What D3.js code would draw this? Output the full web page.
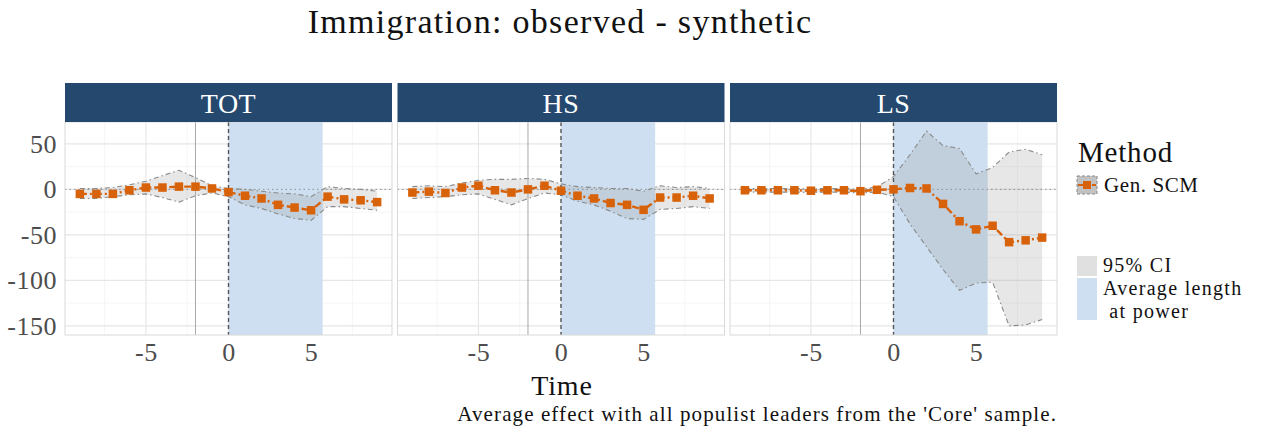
<!DOCTYPE html>
<html>
<head>
<meta charset="utf-8">
<script src="https://cdn.jsdelivr.net/npm/d3@7"></script>
<style>
  html, body { margin: 0; padding: 0; background: #ffffff; }
  svg { display: block; }
  text { font-family: "Liberation Serif", "DejaVu Serif", serif; }
</style>
</head>
<body>
<script>
// Event time relative to the populist leader taking office
const time = [-9, -8, -7, -6, -5, -4, -3, -2, -1, 0, 1, 2, 3, 4, 5, 6, 7, 8, 9];

// Panel names
const panels = ["TOT", "HS", "LS"];

// Observed minus synthetic, with 95% confidence bounds
const totEffect = [-5, -5, -5, -1, 2, 2, 3, 3, 1, -3, -7, -10, -17, -20, -23, -8, -11, -12, -14];
const totUpper  = [1, 1, 2, 5, 9, 15, 21, 13, 4, 1, 0, -2, -4, -5, -8, 3, 1, 0, -2];
const totLower  = [-10, -10, -8, -6, -5, -9, -14, -7, -4, -8, -17, -21, -27, -32, -34, -19, -19, -21, -23];

const hsEffect = [-3.5, -2.5, -4, 2, 4, -1, -3.5, 0, 4, -1.5, -7, -10, -15, -17, -22.5, -9, -9, -7, -10];
const hsUpper  = [3, 4, 3, 7, 10, 11, 11, 12, 11, 6, 3, 2, 1, 1, -2, 4, 2, 3, 1];
const hsLower  = [-10, -9, -8, -6, -5, -11, -17, -10, -4, -6, -13, -17, -24, -32, -33, -22, -21, -19, -21];

const lsEffect = [-1, -1, -1, -1, -1.5, -1, -1, -2, -0.5, 0, 1.5, 1, -16, -35, -44, -40, -58, -56, -53];
const lsUpper  = [1, 1, 1, 1, 0.5, 1, 1, 0, 2.5, 14, 38, 64, 48, 45, 17, 24, 41, 44, 38];
const lsLower  = [-3, -3, -3, -3, -3.5, -3, -3, -4, -3, -8, -38, -63, -88, -111, -103, -102, -150, -149, -143];

// Average length of a populist spell in office (years)
const avgLengthAtPower = 5.7;
// Reference line marking the anticipation window
const anticipationTime = -2;

// Axis settings
const xDomain = [-9.9, 9.9];
const yDomain = [-160, 74];
const xTicks = [-5, 0, 5];
const xMinor = [-7.5, -2.5, 2.5, 7.5];
const yTicks = [-150, -100, -50, 0, 50];
const yMinor = [-125, -75, -25, 25];

const series = {
  TOT: { effect: totEffect, upper: totUpper, lower: totLower },
  HS:  { effect: hsEffect,  upper: hsUpper,  lower: hsLower },
  LS:  { effect: lsEffect,  upper: lsUpper,  lower: lsLower }
};

const W = 1265, H = 433;
const panelW = 327, panelStep = 332.5, panelLeft = 65;
const panelTop = 122, panelBottom = 335;
const stripTop = 83;

const orange = "#D8620A";
const blueShade = "#cddff0";
const stripFill = "#25486e";

// Plain hyphen for negative tick labels
const tickFmt = v => String(v);

const svg = d3.select("body").append("svg")
  .attr("width", W).attr("height", H);

// Title
svg.append("text")
  .attr("x", 560).attr("y", 33)
  .attr("text-anchor", "middle")
  .attr("font-size", 34)
  .attr("letter-spacing", 1.3)
  .attr("fill", "#111")
  .text("Immigration: observed - synthetic");

const y = d3.scaleLinear().domain(yDomain).range([panelBottom, panelTop]);

panels.forEach((name, i) => {
  const x0 = panelLeft + i * panelStep;
  const x = d3.scaleLinear().domain(xDomain).range([x0, x0 + panelW]);
  const d = series[name];
  const rows = time.map((t, k) => ({ t, v: d.effect[k], hi: d.upper[k], lo: d.lower[k] }));

  const g = svg.append("g");

  // Minor grid
  g.selectAll(null).data(xMinor).join("line")
    .attr("x1", v => x(v)).attr("x2", v => x(v))
    .attr("y1", panelTop).attr("y2", panelBottom)
    .attr("stroke", "#f3f3f3").attr("stroke-width", 0.8);
  g.selectAll(null).data(yMinor).join("line")
    .attr("x1", x0).attr("x2", x0 + panelW)
    .attr("y1", v => y(v)).attr("y2", v => y(v))
    .attr("stroke", "#f3f3f3").attr("stroke-width", 0.8);
  // Major grid
  g.selectAll(null).data(xTicks).join("line")
    .attr("x1", v => x(v)).attr("x2", v => x(v))
    .attr("y1", panelTop).attr("y2", panelBottom)
    .attr("stroke", "#e6e6e6").attr("stroke-width", 1.1);
  g.selectAll(null).data(yTicks).join("line")
    .attr("x1", x0).attr("x2", x0 + panelW)
    .attr("y1", v => y(v)).attr("y2", v => y(v))
    .attr("stroke", "#e6e6e6").attr("stroke-width", 1.1);

  // Average length at power
  g.append("rect")
    .attr("x", x(0)).attr("y", panelTop)
    .attr("width", x(avgLengthAtPower) - x(0))
    .attr("height", panelBottom - panelTop)
    .attr("fill", blueShade);

  // Confidence band
  const area = d3.area()
    .x(r => x(r.t)).y0(r => y(r.lo)).y1(r => y(r.hi));
  g.append("path").datum(rows)
    .attr("d", area)
    .attr("fill", "#9a9a9a").attr("fill-opacity", 0.24);
  ["hi", "lo"].forEach(key => {
    g.append("path").datum(rows)
      .attr("d", d3.line().x(r => x(r.t)).y(r => y(r[key])))
      .attr("fill", "none")
      .attr("stroke", "#8a8a8a").attr("stroke-width", 1.1)
      .attr("stroke-dasharray", "5,3,1.5,3");
  });

  // Zero reference
  g.append("line")
    .attr("x1", x0).attr("x2", x0 + panelW)
    .attr("y1", y(0)).attr("y2", y(0))
    .attr("stroke", "#8f8f8f").attr("stroke-width", 1)
    .attr("stroke-dasharray", "1.5,3");

  // Anticipation and treatment lines
  g.append("line")
    .attr("x1", x(anticipationTime)).attr("x2", x(anticipationTime))
    .attr("y1", panelTop).attr("y2", panelBottom)
    .attr("stroke", "#a8a8a8").attr("stroke-width", 1);
  g.append("line")
    .attr("x1", x(0)).attr("x2", x(0))
    .attr("y1", panelTop).attr("y2", panelBottom)
    .attr("stroke", "#555").attr("stroke-width", 1.4)
    .attr("stroke-dasharray", "4,3");

  // Effect line and points
  g.append("path").datum(rows)
    .attr("d", d3.line().x(r => x(r.t)).y(r => y(r.v)))
    .attr("fill", "none")
    .attr("stroke", orange).attr("stroke-width", 2.4)
    .attr("stroke-dasharray", "7,3,2,3");
  const s = 8.5;
  g.selectAll(null).data(rows).join("rect")
    .attr("x", r => x(r.t) - s / 2).attr("y", r => y(r.v) - s / 2)
    .attr("width", s).attr("height", s)
    .attr("fill", orange);

  // Panel border
  g.append("rect")
    .attr("x", x0).attr("y", panelTop)
    .attr("width", panelW).attr("height", panelBottom - panelTop)
    .attr("fill", "none").attr("stroke", "#d9d9d9").attr("stroke-width", 1);

  // Strip
  g.append("rect")
    .attr("x", x0).attr("y", stripTop)
    .attr("width", panelW).attr("height", panelTop - stripTop)
    .attr("fill", stripFill);
  g.append("text")
    .attr("x", x0 + panelW / 2).attr("y", (stripTop + panelTop) / 2 + 10)
    .attr("text-anchor", "middle")
    .attr("font-size", 28).attr("letter-spacing", 0.5).attr("fill", "#ffffff")
    .text(name);

  // Bottom axis
  const xAxis = g.append("g")
    .attr("transform", `translate(0,${panelBottom})`)
    .call(d3.axisBottom(x).tickValues(xTicks).tickSize(0).tickPadding(8).tickFormat(tickFmt));
  xAxis.select(".domain").remove();
  xAxis.selectAll("text")
    .attr("font-size", 26).attr("letter-spacing", 0.5).attr("fill", "#4d4d4d")
    .attr("font-family", "Liberation Serif, serif");

  // Left axis on the first panel only
  if (i === 0) {
    const yAxis = g.append("g")
      .attr("transform", `translate(${x0},0)`)
      .call(d3.axisLeft(y).tickValues(yTicks).tickSize(0).tickPadding(8).tickFormat(tickFmt));
    yAxis.select(".domain").remove();
    yAxis.selectAll("text")
      .attr("font-size", 26).attr("letter-spacing", 0.5).attr("fill", "#4d4d4d")
      .attr("font-family", "Liberation Serif, serif");
  }
});

// Axis title
svg.append("text")
  .attr("x", 562).attr("y", 395)
  .attr("text-anchor", "middle")
  .attr("font-size", 28).attr("letter-spacing", 0.8).attr("fill", "#111")
  .text("Time");

// Caption
svg.append("text")
  .attr("x", 1057).attr("y", 421)
  .attr("text-anchor", "end")
  .attr("font-size", 21).attr("letter-spacing", 1.1).attr("fill", "#111")
  .text("Average effect with all populist leaders from the 'Core' sample.");

// Legend
const lg = svg.append("g");
lg.append("text").attr("x", 1078).attr("y", 162)
  .attr("font-size", 29).attr("letter-spacing", 0.8).attr("fill", "#111").text("Method");
lg.append("rect").attr("x", 1077).attr("y", 176).attr("width", 20).attr("height", 18)
  .attr("fill", "#9a9a9a").attr("fill-opacity", 0.6)
  .attr("stroke", "#8a8a8a").attr("stroke-dasharray", "3,2");
lg.append("line").attr("x1", 1078).attr("x2", 1096).attr("y1", 185).attr("y2", 185)
  .attr("stroke", orange).attr("stroke-width", 2).attr("stroke-dasharray", "5,2");
lg.append("rect").attr("x", 1083).attr("y", 181).attr("width", 8).attr("height", 8)
  .attr("fill", orange);
lg.append("text").attr("x", 1104).attr("y", 192)
  .attr("font-size", 21).attr("letter-spacing", 0.6).attr("fill", "#111").text("Gen. SCM");

lg.append("rect").attr("x", 1077).attr("y", 256).attr("width", 20).attr("height", 20)
  .attr("fill", "#e0e0e0");
lg.append("rect").attr("x", 1077).attr("y", 278).attr("width", 20).attr("height", 42)
  .attr("fill", blueShade);
lg.append("text").attr("x", 1103).attr("y", 272)
  .attr("font-size", 20).attr("letter-spacing", 1.3).attr("fill", "#111").text("95% CI");
lg.append("text").attr("x", 1103).attr("y", 295)
  .attr("font-size", 20).attr("letter-spacing", 1.3).attr("fill", "#111").text("Average length");
lg.append("text").attr("x", 1103).attr("y", 318)
  .attr("font-size", 20).attr("letter-spacing", 1.3).attr("fill", "#111").attr("xml:space", "preserve").text(" at power");
</script>
</body>
</html>
